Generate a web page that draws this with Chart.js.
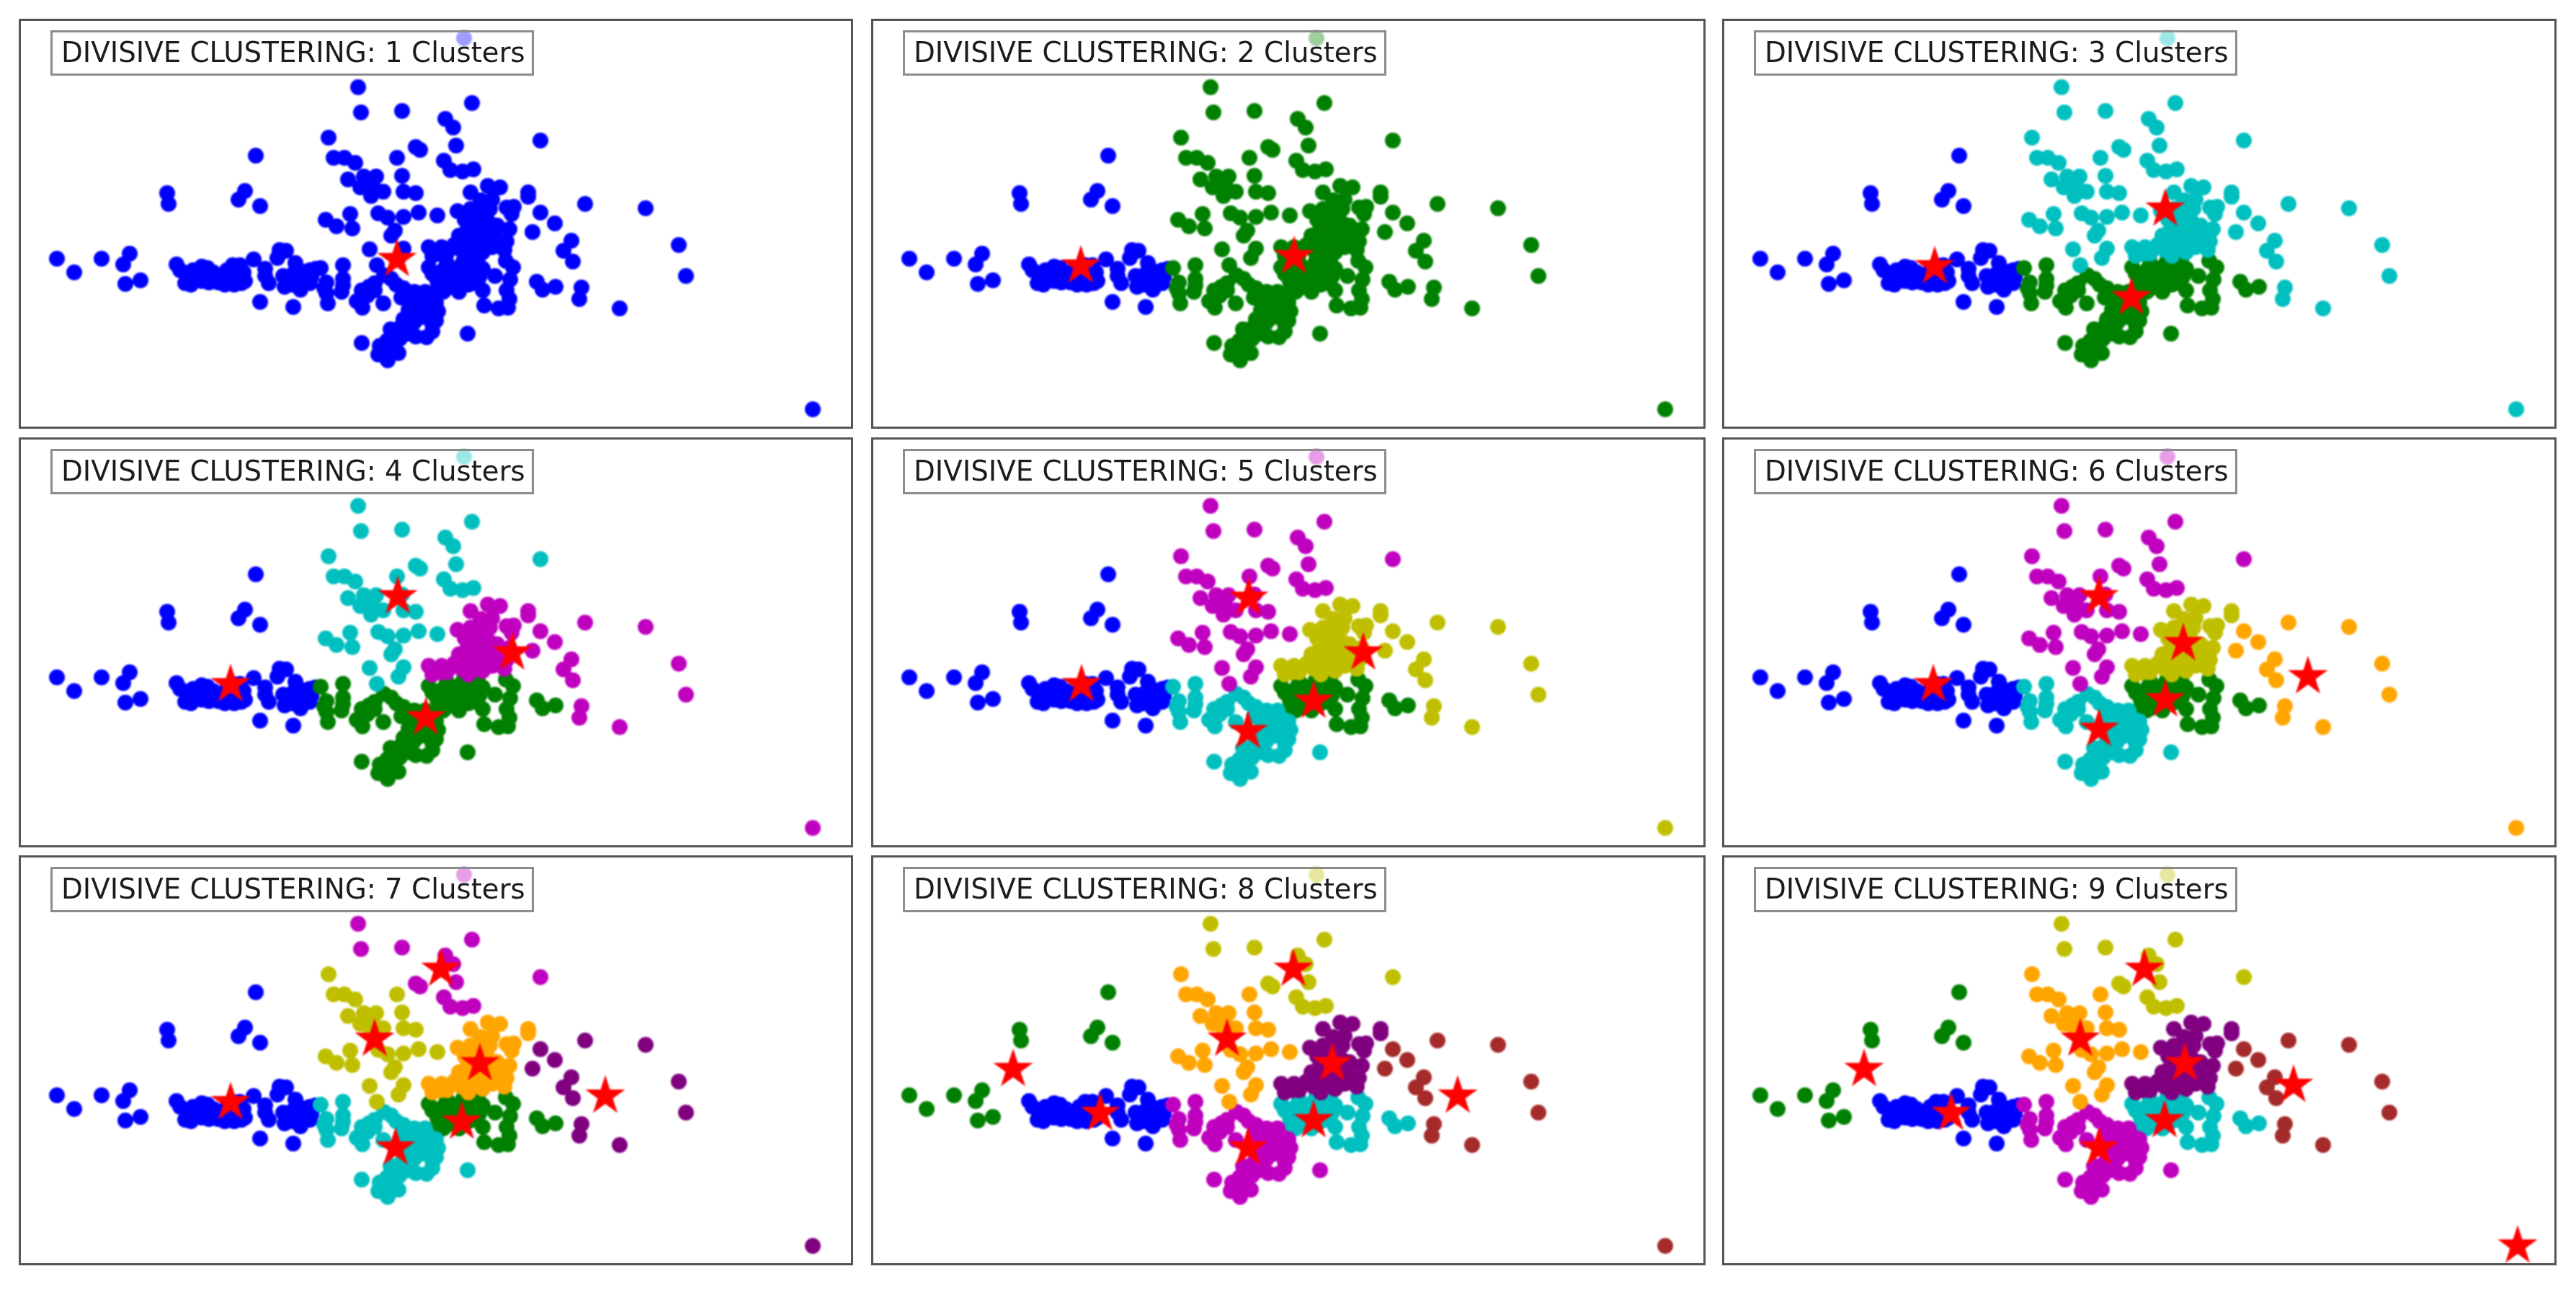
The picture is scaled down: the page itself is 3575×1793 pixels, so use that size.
<!DOCTYPE html>
<html><head><meta charset="utf-8">
<script src="https://cdn.jsdelivr.net/npm/chart.js@4"></script>
<style>
html,body{margin:0;padding:0;background:#fff;width:3575px;height:1793px;overflow:hidden}
.panel{position:absolute;width:1154px;height:565px;outline:3px solid #555;outline-offset:-1px;background:#fff}
.panel canvas{position:absolute;left:0;top:0;filter:blur(.9px)}
.legend{position:absolute;left:42px;top:14px;width:671px;height:63px;box-sizing:border-box;border:3px solid #8c8c8c;background:rgba(255,255,255,.62);
font:38.75px "DejaVu Sans";color:#1c1c1c;line-height:55px;padding-left:12px;white-space:nowrap;filter:blur(.5px)}
</style></head><body>
<script>
// Point values, in reference-panel units (x right, y down).
const groupA=[[79,359],[103,378],[141,359],[180,352],[171,367],[195,389],[174,394],[232,268],[234,283],[340,265],[331,277],[361,286],[355,216]];
const groupB=[[245,367],[250,375],[257,393],[270,387],[280,370],[288,372],[303,383],[303,392],[280,390],[260,383],[290,385],[268,375],[296,378],[323,368],[333,368],[352,360],[335,393],[340,390],[323,383],[317,387],[338,378],[280,380],[265,395],[290,392],[315,375],[325,395],[312,395],[368,373],[368,383],[373,393],[395,398],[388,347],[397,348],[385,358],[410,365],[407,380],[420,377],[417,402],[393,383],[432,385],[430,393],[438,373],[420,390],[405,395],[430,375],[361,419],[407,426]];
const groupC=[[445,372],[476,368],[476,387],[476,396],[453,392],[450,400],[453,407],[474,405],[455,421],[520,393],[502,403],[520,403],[510,410],[512,398],[495,418],[503,427],[503,413],[532,421],[533,382],[543,387],[550,395],[560,400],[557,413],[577,417],[597,417],[570,420],[585,425],[575,405],[590,405],[605,420],[567,430],[590,430],[608,432],[560,443],[577,437],[575,447],[585,440],[600,450],[565,450],[545,465],[555,470],[605,445],[542,457],[568,463],[577,467],[592,468],[600,460],[557,453],[649,463],[502,476],[527,480],[525,492],[538,500],[553,490],[537,473],[530,490],[545,485],[538,488]];
const groupD=[[595,371],[620,365],[643,363],[663,360],[670,373],[650,380],[627,380],[607,390],[633,400],[660,393],[670,403],[640,395],[617,403],[597,407],[580,407],[687,383],[702,362],[712,371],[708,388],[703,403],[707,415],[705,427],[692,428],[672,424],[745,391],[753,402],[771,398],[625,390],[650,395],[637,405],[615,405],[600,380],[615,375],[635,372],[655,370],[610,398],[665,385],[645,388]];
const groupE=[[677,258],[694,260],[653,267],[733,267],[733,273],[713,287],[703,288],[710,297],[683,277],[667,278],[635,293],[653,290],[673,297],[657,312],[680,310],[707,318],[637,327],[668,327],[687,323],[595,343],[613,343],[640,330],[660,320],[680,317],[703,335],[683,343],[660,340],[640,347],[620,352],[600,355],[700,347],[645,305],[665,305],[668,290],[648,320],[650,335],[672,333],[690,335],[630,340],[610,352],[650,355],[670,350],[680,290],[690,313]];
const groupF=[[456,191],[463,219],[478,219],[493,226],[551,219],[558,244],[483,249],[505,245],[522,245],[513,253],[500,260],[520,263],[532,266],[515,272],[560,266],[577,268],[452,305],[467,314],[486,297],[489,317],[525,296],[538,302],[560,301],[581,295],[607,299],[548,320],[543,327],[513,346],[560,345],[553,358],[523,368]];
const groupG=[[644,53],[497,121],[501,156],[558,154],[655,143],[618,165],[629,177],[633,202],[577,204],[583,208],[750,195],[616,223],[625,236],[642,238],[657,235]];
const groupH=[[812,283],[896,289],[750,295],[770,310],[739,322],[793,334],[782,348],[795,363],[942,340],[952,383],[807,399],[804,415],[860,428]];
const groupI=[[1128,568]];

const groups=[groupA,groupB,groupC,groupD,groupE,groupF,groupG,groupH,groupI];
const colours=["#0000ff","#008000","#00bfbf","#bf00bf","#bfbf00","#ffa500","#800080","#a52a2a","#ffc0cb"];
const clusterCounts=[1,2,3,4,5,6,7,8,9];

// Colour index of each group A..I in each of the nine panels.
const panelColours=[
 [0,0,0,0,0,0,0,0,0],
 [0,0,1,1,1,1,1,1,1],
 [0,0,1,1,2,2,2,2,2],
 [0,0,1,1,3,2,2,3,3],
 [0,0,2,1,4,3,3,4,4],
 [0,0,2,1,4,3,3,5,5],
 [0,0,2,1,5,4,3,6,6],
 [1,0,3,2,6,5,4,7,7],
 [1,0,3,2,6,5,4,7,8]
];
// Red star centres per panel.
const panelStars=[
 [[551,360]],
 [[317,369],[613,356]],
 [[321,370],[594,413],[641,290]],
 [[320,369],[552,247],[711,325],[591,415]],
 [[318,369],[550,249],[709,325],[640,392],[549,434]],
 [[319,369],[549,247],[666,312],[641,390],[549,431],[839,358]],
 [[320,369],[520,281],[666,315],[641,396],[549,432],[840,360],[612,184]],
 [[344,384],[223,323],[520,281],[612,184],[666,315],[640,394],[549,432],[840,360]],
 [[344,384],[223,323],[523,281],[612,184],[668,315],[640,394],[549,432],[819,345],[1130,568]]
];
const panelLefts=[28,1211,2392];
const panelTops=[28,609,1189];

function starImage(r){
  const c=document.createElement('canvas');const s=Math.ceil(r*2+4);c.width=c.height=s;
  const g=c.getContext('2d');g.fillStyle='#ff0000';g.beginPath();
  const cx=s/2,cy=s/2,inner=r*0.382;
  for(let i=0;i<10;i++){const a=-Math.PI/2+i*Math.PI/5,q=i%2?inner:r;
    const x=cx+q*Math.cos(a),y=cy+q*Math.sin(a);i?g.lineTo(x,y):g.moveTo(x,y);}
  g.closePath();g.fill();return c;
}
const star=starImage(29);

panelColours.forEach((map,p)=>{
  const div=document.createElement('div');div.className='panel';
  div.style.left=panelLefts[p%3]+'px';div.style.top=panelTops[Math.floor(p/3)]+'px';
  const cv=document.createElement('canvas');cv.width=1154;cv.height=565;div.appendChild(cv);
  const leg=document.createElement('div');leg.className='legend';
  leg.textContent='DIVISIVE CLUSTERING: '+clusterCounts[p]+' Clusters';div.appendChild(leg);
  document.body.appendChild(div);
  const datasets=[];
  colours.forEach((col,ci)=>{
    const data=[];map.forEach((m,g)=>{if(m===ci)groups[g].forEach(q=>data.push({x:q[0],y:q[1]}));});
    if(data.length)datasets.push({data,order:20-ci,pointRadius:11,pointBackgroundColor:col,pointBorderWidth:0,showLine:false});
  });
  datasets.push({data:panelStars[p].map(q=>({x:q[0],y:q[1]})),order:0,pointStyle:star,pointRadius:29,showLine:false});
  new Chart(cv,{type:'scatter',data:{datasets},options:{
    responsive:false,animation:false,events:[],layout:{padding:0,autoPadding:false},
    plugins:{legend:{display:false},tooltip:{enabled:false},title:{display:false}},
    scales:{x:{display:false,min:28,max:1182},y:{display:false,min:28,max:593,reverse:true}}
  }});
});
</script></body></html>
